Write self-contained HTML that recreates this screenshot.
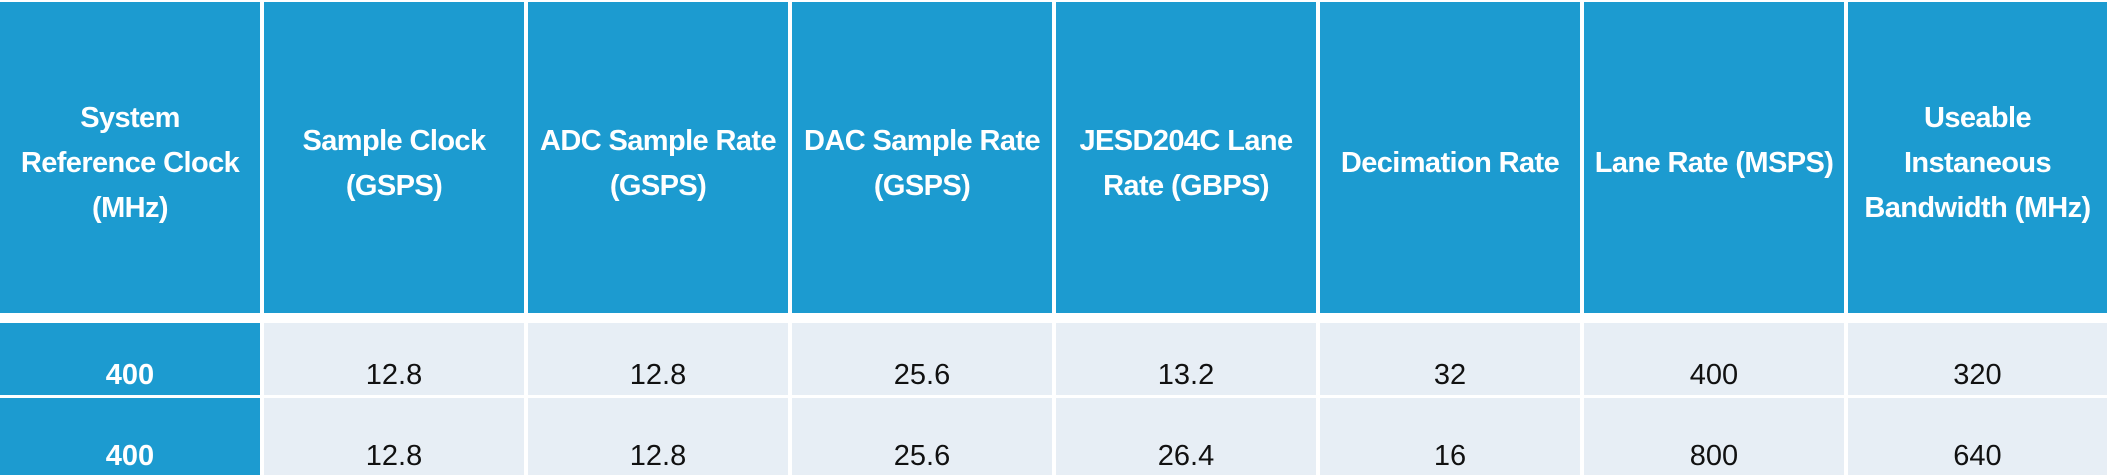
<!DOCTYPE html>
<html><head><meta charset="utf-8"><style>
html,body{margin:0;padding:0;background:#fff;width:2107px;height:475px;overflow:hidden}
.c{position:absolute;display:flex;justify-content:center;box-sizing:border-box;font-family:"Liberation Sans",sans-serif;text-align:center}
.h{background:#1c9bd0;color:#fff;font-weight:bold;font-size:29px;line-height:45px;letter-spacing:-0.6px;align-items:center;top:2px;height:311px;padding-top:12px}
.f{background:#1c9bd0;color:#fff;font-weight:bold;font-size:29px;align-items:flex-end}
.d{background:#e7eef5;color:#111;font-size:29px;align-items:flex-end}
.r1{top:323px;height:72px;padding-bottom:3px}
.r2{top:398px;height:77px;padding-bottom:2px}
</style></head><body>
<div id="t"></div>
<script>
const headers=["System<br>Reference Clock<br>(MHz)","Sample Clock<br>(GSPS)","ADC Sample Rate<br>(GSPS)","DAC Sample Rate<br>(GSPS)","JESD204C Lane<br>Rate (GBPS)","Decimation Rate","Lane Rate (MSPS)","Useable<br>Instaneous<br>Bandwidth (MHz)"];
const headerNames=["system-reference-clock-header","sample-clock-header","adc-sample-rate-header","dac-sample-rate-header","jesd204c-lane-rate-header","decimation-rate-header","lane-rate-header","bandwidth-header"];
const row1=["400","12.8","12.8","25.6","13.2","32","400","320"];
const row2=["400","12.8","12.8","25.6","26.4","16","800","640"];
const t=document.getElementById('t');
function cell(cls,i,html,name){
  const d=document.createElement('div');
  d.className='c '+cls;
  d.style.left=(i*264)+'px';
  d.style.width=(i===7?259:260)+'px';
  d.innerHTML=html;
  
  
  t.appendChild(d);
}
headers.forEach((h,i)=>cell('h',i,h,headerNames[i]));
row1.forEach((v,i)=>cell((i===0?'f':'d')+' r1',i,v,'row1-cell'));
row2.forEach((v,i)=>cell((i===0?'f':'d')+' r2',i,v,'row2-cell'));
</script>
</body></html>
